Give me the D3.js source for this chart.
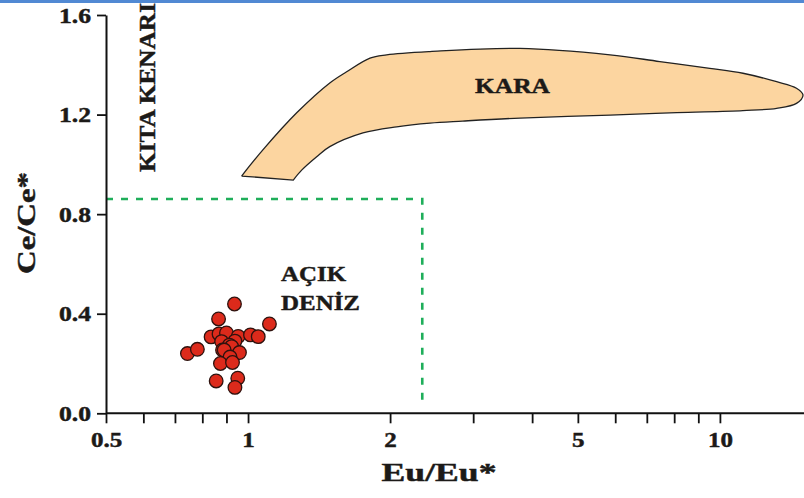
<!DOCTYPE html>
<html><head><meta charset="utf-8">
<script src="https://cdn.jsdelivr.net/npm/d3@7"></script>
<style>body{margin:0;background:#fff}svg{display:block}</style>
</head><body>
<svg id="c" width="804" height="498"></svg>
<script>
// ---- data ----
const xMajorTicks = [0.5, 1, 2, 5, 10];
const xMinorTicks = [0.6, 0.7, 0.8, 0.9, 3, 4, 6, 7, 8, 9];
const yTicks = [0, 0.4, 0.8, 1.2, 1.6];
// samples: Eu/Eu* and Ce/Ce*
const euRatio = [0.936, 0.866, 1.11, 0.744, 0.781, 0.835, 0.868, 0.90, 0.953, 1.012, 1.051, 0.879, 0.938, 0.913, 0.923, 0.883, 0.89, 0.959, 0.916, 0.874, 0.927, 0.856, 0.951, 0.938];
const ceRatio = [0.439, 0.379, 0.359, 0.240, 0.257, 0.307, 0.319, 0.323, 0.309, 0.315, 0.308, 0.288, 0.29, 0.274, 0.268, 0.254, 0.254, 0.244, 0.226, 0.200, 0.204, 0.130, 0.141, 0.104];
// KARA field outline (Eu/Eu*, Ce/Ce*); corner vertices repeated to keep them sharp
const karaX = [0.969, 0.969, 1.075, 1.268, 1.49, 1.618, 1.813, 1.967, 2.43, 3.77, 5.85, 7.46, 9.52, 11.19, 13.19, 14.53, 15.0, 14.53, 13.19, 11.19, 8.1, 5.85, 3.77, 2.85, 2.43, 2.065, 1.752, 1.49, 1.398, 1.299, 1.247, 1.247];
const karaY = [0.953, 0.953, 1.058, 1.207, 1.327, 1.372, 1.427, 1.44, 1.453, 1.466, 1.44, 1.413, 1.386, 1.366, 1.332, 1.306, 1.279, 1.245, 1.225, 1.216, 1.208, 1.198, 1.186, 1.174, 1.166, 1.151, 1.126, 1.071, 1.031, 0.977, 0.937, 0.937];
// open sea field boundary (dashed)
const openSeaEu = [0.5, 2.34, 2.34];
const openSeaCe = [0.861, 0.861, 0.03];
const labels = ["KARA", "AÇIK", "DENİZ", "KITA KENARI"];

// ---- chart ----
const svg = d3.select("#c");
const FONT = "'Liberation Serif', 'Times New Roman', serif";
const INK = "#1c1a18";
const x = d3.scaleLog().domain([0.5, 15]).range([106, 803]);
const y = d3.scaleLinear().domain([0, 1.6]).range([413.3, 15]);

svg.append("rect").attr("x", 0).attr("y", 0).attr("width", 804).attr("height", 3).attr("fill", "#5189d3");

function stretch(sel, f) {
  sel.each(function () { const l = this.getComputedTextLength(); d3.select(this).attr("textLength", l * f).attr("lengthAdjust", "spacingAndGlyphs"); });
}
function heavy(sel) { sel.attr("fill", INK).attr("stroke", INK).attr("stroke-width", 0.45); }

// KARA polygon
const kara = karaX.map((v, i) => [v, karaY[i]]);
svg.append("path")
  .attr("d", d3.line().x(d => x(d[0])).y(d => y(d[1])).curve(d3.curveCatmullRomClosed.alpha(0.5))(kara))
  .attr("fill", "#fcd5a0").attr("stroke", "#222").attr("stroke-width", 1.3);

// dashed open-sea boundary
const os = openSeaEu.map((v, i) => [v, openSeaCe[i]]);
svg.append("path")
  .attr("d", d3.line().x(d => x(d[0])).y(d => y(d[1]))(os))
  .attr("fill", "none").attr("stroke", "#1fae5a").attr("stroke-width", 2.6).attr("stroke-dasharray", "7,8");

// axes
const xAxis = d3.axisBottom(x).tickValues(xMajorTicks.concat(xMinorTicks))
  .tickFormat(d => xMajorTicks.includes(d) ? String(d) : "").tickSize(10).tickSizeOuter(0);
const gx = svg.append("g").attr("transform", `translate(0,${y(0)})`).call(xAxis).attr("font-family", FONT);
gx.select(".domain").attr("d", `M106,0H804`).attr("stroke", "#111").attr("stroke-width", 2);
gx.selectAll(".tick line").attr("stroke", "#111").attr("stroke-width", 1.8);
gx.selectAll(".tick text").attr("y", 34).attr("dy", 0).attr("font-family", FONT).attr("font-weight", "bold").attr("font-size", 20).call(heavy);
stretch(gx.selectAll(".tick text").filter(function(){return this.textContent!=="";}), 1.25);

const yAxis = d3.axisLeft(y).tickValues(yTicks).tickFormat(d3.format(".1f")).tickSize(9).tickPadding(6).tickSizeOuter(0);
const gy = svg.append("g").attr("transform", `translate(${x(0.5)},0)`).call(yAxis).attr("font-family", FONT);
gy.select(".domain").attr("stroke", "#111").attr("stroke-width", 2);
gy.selectAll(".tick line").attr("stroke", "#111").attr("stroke-width", 1.8);
gy.selectAll(".tick text").attr("font-family", FONT).attr("font-weight", "bold").attr("font-size", 20).attr("dy", "0.35em").call(heavy);
stretch(gy.selectAll(".tick text"), 1.28);

// points
svg.append("g").selectAll("circle").data(euRatio.map((v, i) => [v, ceRatio[i]])).join("circle")
  .attr("cx", d => x(d[0])).attr("cy", d => y(d[1])).attr("r", 6.8)
  .attr("fill", "#dc2a1b").attr("stroke", "#2e120e").attr("stroke-width", 1.3);

// labels
function txt(s, px, py, size, len, anchor, rot) {
  const t = svg.append("text").text(s).attr("font-family", FONT).attr("font-weight", "bold")
    .attr("font-size", size).attr("text-anchor", anchor || "start").call(heavy);
  if (rot) t.attr("transform", `translate(${px},${py}) rotate(${rot})`);
  else t.attr("x", px).attr("y", py);
  t.attr("textLength", len).attr("lengthAdjust", "spacingAndGlyphs");
  return t;
}
txt(labels[0], 475, 93, 21, 75);
txt(labels[1], 281, 281, 22, 65);
txt(labels[2], 281, 310, 22, 79);
txt(labels[3], 155, 172, 24, 169, "start", -90);
txt("Ce/Ce*", 35, 223, 26, 102, "middle", -90);
txt("Eu/Eu*", 439, 481, 26, 115, "middle");
</script>
</body></html>
